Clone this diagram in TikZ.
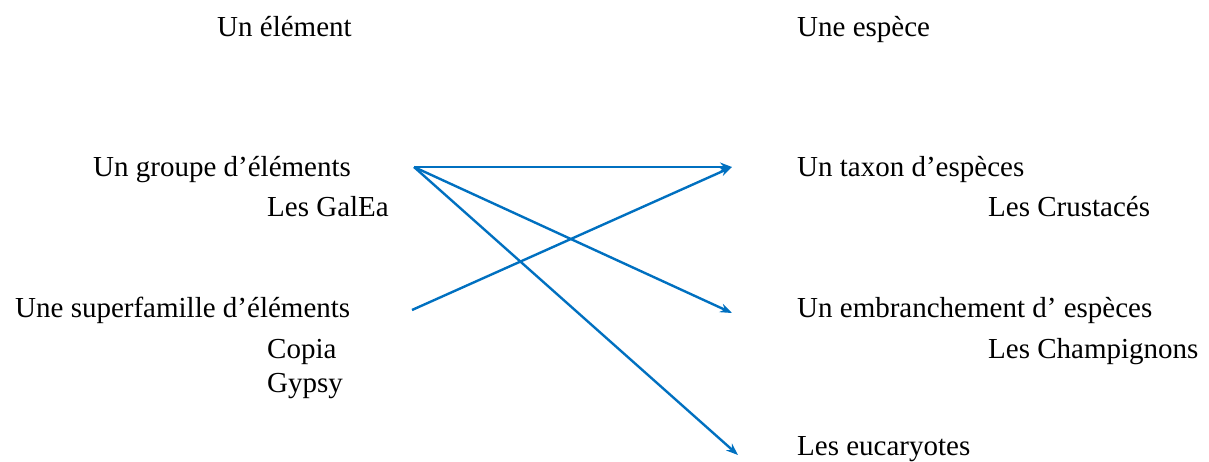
\documentclass[tikz,border=0pt]{standalone}
\usepackage{fontspec}
\setmainfont{Liberation Serif}
\usetikzlibrary{arrows.meta}
\definecolor{fleche}{RGB}{0,112,192}
\begin{document}
\begin{tikzpicture}[x=1pt,y=-1pt,>={Stealth[length=12pt,width=9pt]},
    every node/.style={anchor=base west,inner sep=0pt,font=\fontsize{29}{34}\selectfont}]
    \useasboundingbox (0,0) rectangle (1209,461);
    \node (elem) at (217,36) {Un élément};
    \node (espece) at (797,36) {Une espèce};
    \node (groupe) at (93,176) {Un groupe d’éléments};
    \node (galea) at (267,216) {Les GalEa};
    \node (superfam) at (15,317) {Une superfamille d’éléments};
    \node (copia) at (267,358) {Copia};
    \node (gypsy) at (267,392) {Gypsy};
    \node (taxon) at (797,176) {Un taxon d’espèces};
    \node (crust) at (988,216) {Les Crustacés};
    \node (embr) at (797,317) {Un embranchement d’ espèces};
    \node (champ) at (988,358) {Les Champignons};
    \node (euca) at (797,455) {Les eucaryotes};
    \coordinate (g) at (414,167);
    \coordinate (s) at (412,310);
    \coordinate (t) at (732,167);
    \coordinate (e) at (732,313);
    \coordinate (u) at (738,455);
    \draw[fleche,line width=2.4pt,->](s)--(t);
    \foreach \c in {t,e,u}
    {
        \draw[fleche,line width=2.4pt,->](g)--(\c);
    }
\end{tikzpicture}
\end{document}
